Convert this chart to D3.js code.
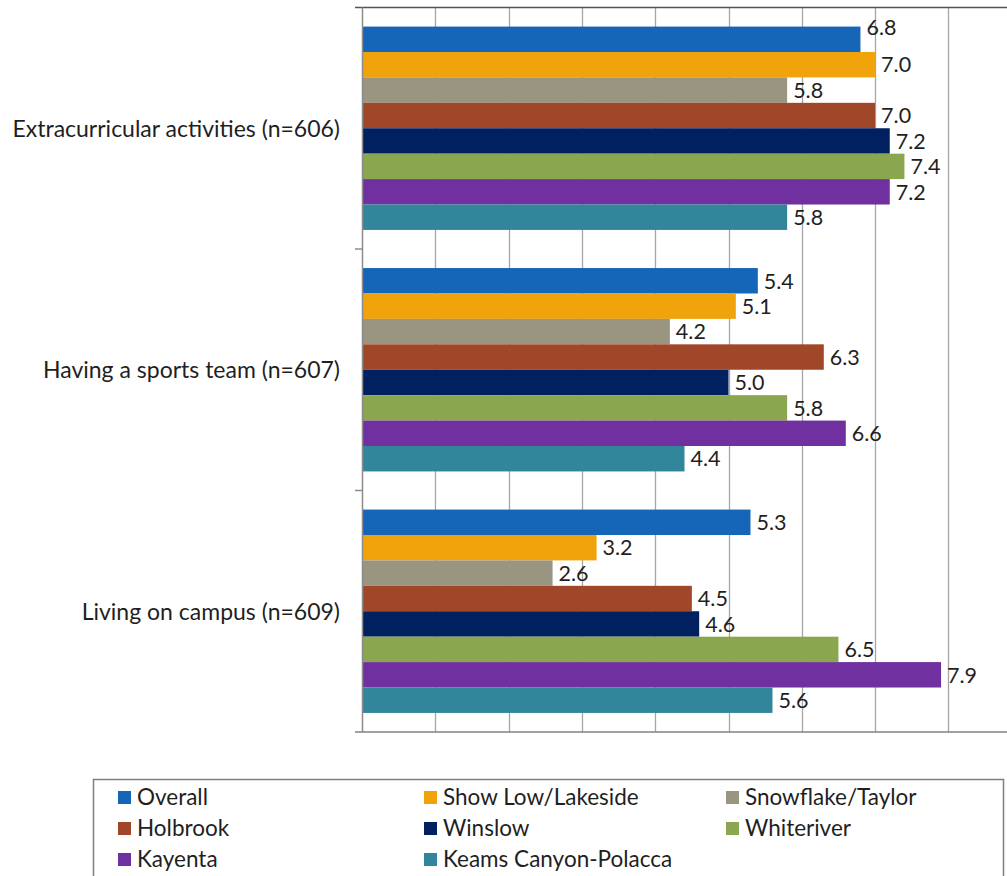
<!DOCTYPE html>
<html>
<head>
<meta charset="utf-8">
<script src="https://cdn.jsdelivr.net/npm/d3@7"></script>
<style>
  html, body { margin: 0; padding: 0; background: #fff; }
  svg { display: block; }
  text { font-family: Lato, "Open Sans", sans-serif; fill: #1f1f1f; }
</style>
</head>
<body>
<svg id="chart" width="1007" height="876"></svg>
<script>
// Survey categories (top to bottom)
const categories = [
  "Extracurricular activities (n=606)",
  "Having a sports team (n=607)",
  "Living on campus (n=609)"
];

// Series (communities), in drawing order within each group
const seriesNames = [
  "Overall", "Show Low/Lakeside", "Snowflake/Taylor", "Holbrook",
  "Winslow", "Whiteriver", "Kayenta", "Keams Canyon-Polacca"
];

const seriesColors = [
  "#1565b8", "#f0a30a", "#9a9580", "#a0472a",
  "#002060", "#8aa64e", "#7030a0", "#31869b"
];

// Mean ratings per series, one entry per category
const overall     = [6.8, 5.4, 5.3];
const showLow     = [7.0, 5.1, 3.2];
const snowflake   = [5.8, 4.2, 2.6];
const holbrook    = [7.0, 6.3, 4.5];
const winslow     = [7.2, 5.0, 4.6];
const whiteriver  = [7.4, 5.8, 6.5];
const kayenta     = [7.2, 6.6, 7.9];
const keamsCanyon = [5.8, 4.4, 5.6];

const seriesValues = [overall, showLow, snowflake, holbrook,
                      winslow, whiteriver, kayenta, keamsCanyon];

// Value axis gridline positions
const gridTicks = [1, 2, 3, 4, 5, 6, 7, 8, 9];

const svg = d3.select("#chart");

const plot = { left: 362, top: 7.5, bottom: 732, right: 1007 };
const unit = 73.3;

const x = d3.scaleLinear()
  .domain([0, 10])
  .range([plot.left, plot.left + 10 * unit]);

const y = d3.scaleBand()
  .domain(categories)
  .range([plot.top, plot.bottom])
  .paddingInner(0)
  .paddingOuter(0);

const ySeries = d3.scaleBand()
  .domain(seriesNames)
  .range([0, y.bandwidth()])
  .paddingInner(0)
  .paddingOuter(0.75);

// Vertical gridlines
svg.append("g")
  .selectAll("line")
  .data(gridTicks)
  .join("line")
  .attr("x1", d => Math.round(x(d)) + 0.5)
  .attr("x2", d => Math.round(x(d)) + 0.5)
  .attr("y1", plot.top)
  .attr("y2", plot.bottom)
  .attr("stroke", "#a6a6a6")
  .attr("stroke-width", 1.3);

// Top border of the plot area
svg.append("line")
  .attr("x1", 355).attr("x2", plot.right)
  .attr("y1", plot.top).attr("y2", plot.top)
  .attr("stroke", "#555").attr("stroke-width", 1.5);

// Bars
const groups = svg.append("g")
  .selectAll("g")
  .data(categories)
  .join("g")
  .attr("transform", c => `translate(0,${y(c)})`);

const rows = (ci) => seriesNames.map((s, si) => ({
  series: s, si, ci, value: seriesValues[si][ci]
}));

groups.selectAll("rect")
  .data((c, ci) => rows(ci))
  .join("rect")
  .attr("x", x(0))
  .attr("y", d => ySeries(d.series))
  .attr("width", d => x(d.value) - x(0))
  .attr("height", ySeries.bandwidth())
  .attr("fill", d => seriesColors[d.si]);

// Value labels; the first label is lifted so it clears its neighbour
const liftedLabel = { ci: 0, si: 0, dy: -12 };

groups.selectAll("text.value")
  .data((c, ci) => rows(ci))
  .join("text")
  .attr("class", "value")
  .attr("x", d => x(d.value) + 6)
  .attr("y", d => ySeries(d.series) + ySeries.bandwidth() / 2 +
    (d.ci === liftedLabel.ci && d.si === liftedLabel.si ? liftedLabel.dy : 0))
  .attr("dy", "0.36em")
  .attr("font-size", 21.5)
  .text(d => d3.format(".1f")(d.value));

// Category axis line and tick marks
svg.append("line")
  .attr("x1", plot.left + 0.5).attr("x2", plot.left + 0.5)
  .attr("y1", plot.top).attr("y2", plot.bottom)
  .attr("stroke", "#8c8c8c").attr("stroke-width", 1.5);

svg.append("g")
  .selectAll("line")
  .data(categories.slice(1))
  .join("line")
  .attr("x1", 355).attr("x2", plot.left)
  .attr("y1", c => y(c)).attr("y2", c => y(c))
  .attr("stroke", "#8c8c8c").attr("stroke-width", 1.5);

// Bottom value axis line
svg.append("line")
  .attr("x1", 355).attr("x2", plot.right)
  .attr("y1", plot.bottom).attr("y2", plot.bottom)
  .attr("stroke", "#808080").attr("stroke-width", 1.5);

// Category labels
svg.append("g")
  .selectAll("text")
  .data(categories)
  .join("text")
  .attr("x", 340)
  .attr("y", c => y(c) + y.bandwidth() / 2)
  .attr("dy", "0.36em")
  .attr("text-anchor", "end")
  .attr("font-size", 23)
  .text(c => c);

// Legend
const legend = svg.append("g");
legend.append("rect")
  .attr("x", 93.5).attr("y", 779.5)
  .attr("width", 910).attr("height", 110)
  .attr("fill", "none")
  .attr("stroke", "#7f7f7f")
  .attr("stroke-width", 1.5);

const legendCols = 3;
const colX = d3.scaleOrdinal().domain([0, 1, 2]).range([118, 424, 726]);
const rowY = d3.scaleLinear().domain([0, 1]).range([797, 828]);

const items = legend.selectAll("g.item")
  .data(seriesNames)
  .join("g")
  .attr("class", "item")
  .attr("transform", (s, i) =>
    `translate(${colX(i % legendCols)},${rowY(Math.floor(i / legendCols))})`);

items.append("rect")
  .attr("x", 0).attr("y", -6)
  .attr("width", 13).attr("height", 13)
  .attr("fill", (s, i) => seriesColors[i]);

items.append("text")
  .attr("x", 19)
  .attr("y", 0)
  .attr("dy", "0.36em")
  .attr("font-size", 22.5)
  .text(s => s);
</script>
</body>
</html>
